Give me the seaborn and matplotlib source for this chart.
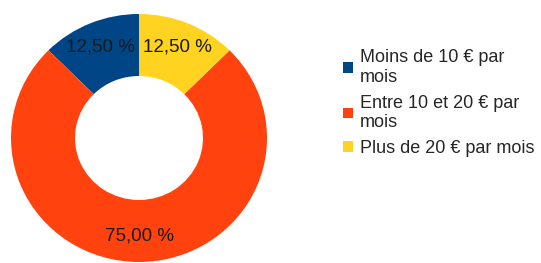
import matplotlib
matplotlib.use("Agg")
import matplotlib.pyplot as plt
import seaborn as sns

# Data
categories = ["Moins de 10 € par\nmois", "Entre 10 et 20 € par\nmois", "Plus de 20 € par mois"]
shares = [12.5, 75.0, 12.5]
colors = ["#004586", "#ff420e", "#ffd320"]

sns.set_style("white")
plt.rcParams['font.family'] = ['Liberation Sans', 'DejaVu Sans']

fig = plt.figure(figsize=(5.41, 2.63), dpi=100)
W, H = 541, 263
# pie axes placed in pixel coords (left, top, right, bottom)
l, t, r, b = 11, 14, 267, 262
ax = fig.add_axes([l / W, (H - b) / H, (r - l) / W, (b - t) / H])

def fmt(p):
    return f"{p:.2f} %".replace(".", ",")

wedges, texts, autotexts = ax.pie(
    shares, colors=colors, startangle=90, counterclock=True,
    autopct=fmt, pctdistance=0.79,
    wedgeprops=dict(width=0.5, edgecolor="none"),
    textprops=dict(fontsize=13.5, color="#1a1a1a"),
)
ax.set_xlim(-1, 1)
ax.set_ylim(-1, 1)
ax.set_aspect("auto")
ax.axis("off")

fig.legend(wedges, categories, loc="upper left", bbox_to_anchor=(343 / W, 1 - 49 / H),
           frameon=False, fontsize=13, handlelength=0.55, handleheight=0.55,
           handletextpad=0.4, labelspacing=0.5, borderpad=0, borderaxespad=0)

fig.savefig("out.png", dpi=100)
